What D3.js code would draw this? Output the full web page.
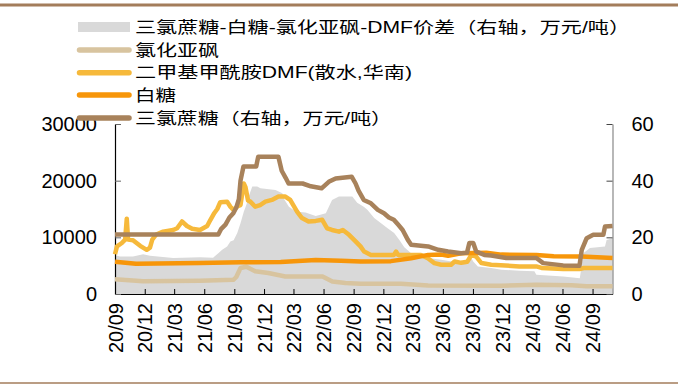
<!DOCTYPE html>
<html>
<head>
<meta charset="utf-8">
<script src="https://cdn.jsdelivr.net/npm/d3@7"></script>
<style>
  html, body { margin: 0; padding: 0; background: #fff; }
  svg { display: block; }
</style>
</head>
<body>
<div id="chart"></div>
<script>
// 三氯蔗糖价格（万元/吨，右轴）
const sucralose = [
  ["2020-09-01",21.0],["2021-07-14",21.0],["2021-07-23",23.0],["2021-08-05",24.5],["2021-08-17",27.0],
  ["2021-08-29",28.5],["2021-09-07",30.5],["2021-09-15",33.5],["2021-09-20",40.0],["2021-09-29",45.0],
  ["2021-11-07",45.0],["2021-11-13",48.4],["2022-01-14",48.4],["2022-01-24",43.5],["2022-02-05",41.0],
  ["2022-02-14",39.0],["2022-03-29",39.0],["2022-04-23",38.0],["2022-05-26",37.3],["2022-06-17",39.6],
  ["2022-07-08",40.8],["2022-08-26",41.4],["2022-09-07",39.0],["2022-09-16",36.5],["2022-10-02",33.2],
  ["2022-10-24",32.0],["2022-11-14",29.7],["2022-12-03",28.5],["2022-12-18",27.0],["2023-01-02",26.2],
  ["2023-01-15",24.5],["2023-01-29",22.6],["2023-02-14",19.1],["2023-02-24",17.4],["2023-04-17",16.8],
  ["2023-05-18",15.6],["2023-06-17",15.0],["2023-07-27",14.4],["2023-08-14",14.6],["2023-08-21",18.0],
  ["2023-09-02",18.0],["2023-09-11",15.0],["2023-10-06",13.8],["2023-10-27",13.6],["2023-12-12",12.7],
  ["2024-03-13",12.7],["2024-04-03",10.9],["2024-06-03",10.1],["2024-07-23",10.0],["2024-07-30",15.6],
  ["2024-08-14",19.7],["2024-09-03",20.9],["2024-10-04",20.9],["2024-10-09",23.8],["2024-11-01",24.0]
];

// 白糖价格（元/吨）
const sugar = [
  ["2020-09-01",5700],["2020-11-04",5350],["2021-05-19",5450],["2021-09-20",5600],["2022-01-21",5650],
  ["2022-05-08",6000],["2022-07-24",5850],["2022-09-23",5750],["2022-12-24",5800],["2023-02-24",6300],
  ["2023-04-17",6900],["2023-05-27",6950],["2023-06-17",6750],["2023-07-27",7200],["2023-10-12",7300],
  ["2023-11-27",6950],["2024-03-13",6900],["2024-05-05",6650],["2024-07-30",6600],["2024-11-01",6350]
];

// 二甲基甲酰胺DMF（散水，华南，元/吨）
const dmf = [
  ["2020-09-01",7000],["2020-09-07",8400],["2020-09-22",9000],["2020-10-02",9600],["2020-10-07",13300],
  ["2020-10-11",9600],["2020-10-26",9500],["2020-11-17",8500],["2020-12-07",7800],["2020-12-17",8200],
  ["2020-12-24",9600],["2021-01-05",10500],["2021-01-26",11000],["2021-02-26",11300],["2021-03-10",11600],
  ["2021-03-25",12800],["2021-04-09",12000],["2021-04-25",11500],["2021-05-19",11300],["2021-06-10",12000],
  ["2021-06-20",13100],["2021-07-02",14300],["2021-07-11",15000],["2021-07-20",16200],["2021-08-10",16300],
  ["2021-08-20",15400],["2021-08-30",14800],["2021-09-11",15500],["2021-09-20",15700],["2021-09-30",19500],
  ["2021-10-05",18900],["2021-10-13",16500],["2021-10-20",16300],["2021-11-04",15400],["2021-11-19",15700],
  ["2021-12-05",16300],["2021-12-25",16600],["2022-01-14",17200],["2022-02-04",17200],["2022-02-19",16600],
  ["2022-03-12",14550],["2022-03-27",13400],["2022-04-16",12800],["2022-05-08",12900],["2022-05-28",13100],
  ["2022-06-12",11600],["2022-06-27",11300],["2022-07-18",11000],["2022-07-30",11300],["2022-08-18",10450],
  ["2022-09-07",9300],["2022-09-22",8400],["2022-10-03",7500],["2022-10-24",6900],["2023-01-02",6900],
  ["2023-01-09",7500],["2023-01-15",6900],["2023-03-26",6900],["2023-04-16",6300],["2023-05-06",5460],
  ["2023-05-27",5160],["2023-06-26",5160],["2023-07-07",5740],["2023-07-27",5500],["2023-08-15",5700],
  ["2023-08-27",6900],["2023-09-11",6600],["2023-09-27",5460],["2023-10-27",5160],["2024-01-21",4870],
  ["2024-03-13",4870],["2024-03-29",4600],["2024-06-03",4400],["2024-07-23",4400],["2024-08-05",4580],
  ["2024-11-01",4580]
];

// 氯化亚砜价格（元/吨）
const thionyl = [
  ["2020-09-01",2600],["2020-11-26",2250],["2021-05-19",2350],["2021-08-29",2500],["2021-09-07",3000],
  ["2021-09-20",4600],["2021-10-08",4800],["2021-11-04",4000],["2021-12-14",3700],["2022-02-04",3100],
  ["2022-05-29",3100],["2022-06-28",2200],["2022-08-07",1950],["2022-09-22",1800],["2023-01-24",1800],
  ["2023-04-17",1520],["2023-11-27",1450],["2024-03-13",1640],["2024-06-29",1550],["2024-08-14",1350],
  ["2024-11-01",1350]
];

// 三氯蔗糖-白糖-氯化亚砜-DMF价差（万元/吨，右轴）
const spread = [
  ["2020-09-01",13.8],["2020-09-16",13.2],["2020-10-26",13.2],["2020-11-26",14.0],["2020-12-17",13.5],
  ["2021-02-26",12.7],["2021-05-19",13.0],["2021-06-28",12.8],["2021-07-14",14.4],["2021-07-26",15.6],
  ["2021-08-10",16.8],["2021-08-20",18.5],["2021-08-30",19.0],["2021-09-10",21.5],["2021-09-20",25.0],
  ["2021-09-30",29.0],["2021-10-08",31.5],["2021-10-15",34.4],["2021-10-26",37.9],["2021-11-10",37.9],
  ["2021-11-20",37.3],["2022-01-05",36.7],["2022-01-26",35.6],["2022-02-02",33.2],["2022-02-15",30.8],
  ["2022-03-08",29.1],["2022-04-07",28.8],["2022-05-08",27.5],["2022-06-08",28.5],["2022-06-27",33.2],
  ["2022-07-18",34.4],["2022-08-28",34.4],["2022-09-12",32.2],["2022-10-02",30.8],["2022-10-13",29.7],
  ["2022-11-03",26.8],["2022-11-24",25.0],["2022-12-14",23.2],["2023-01-03",21.5],["2023-01-19",19.1],
  ["2023-02-03",16.5],["2023-02-24",14.4],["2023-03-20",14.0],["2023-04-16",12.7],["2023-05-27",12.1],
  ["2023-07-27",10.9],["2023-08-15",10.5],["2023-08-22",13.8],["2023-09-02",11.5],["2023-09-16",9.7],
  ["2023-10-27",9.2],["2023-11-27",8.6],["2024-01-22",8.2],["2024-03-07",8.0],["2024-03-13",6.8],
  ["2024-06-03",6.2],["2024-07-24",5.6],["2024-08-04",14.4],["2024-08-24",16.2],["2024-10-09",16.8],
  ["2024-10-14",19.1],["2024-11-01",19.7]
];

const xTickLabels = ["20/09","20/12","21/03","21/06","21/09","21/12","22/03","22/06","22/09",
                     "22/12","23/03","23/06","23/09","23/12","24/03","24/06","24/09"];
const leftTicks = [0, 10000, 20000, 30000];
const rightTicks = [0, 20, 40, 60];

const legendItems = [
  { label: "三氯蔗糖-白糖-氯化亚砜-DMF价差（右轴，万元/吨）", kind: "area", color: "#d9d9d9", len: 495 },
  { label: "氯化亚砜", kind: "line", color: "#d8c49f", len: 84 },
  { label: "二甲基甲酰胺DMF(散水,华南)", kind: "line", color: "#f6b93b", len: 277 },
  { label: "白糖", kind: "line", color: "#f7960a", len: 41 },
  { label: "三氯蔗糖（右轴，万元/吨）", kind: "line", color: "#a8825b", len: 257 }
];

const W = 678, H = 387;
const FONT = "'Liberation Sans', Arial, 'Noto Sans CJK SC', sans-serif";
const plot = { left: 115, right: 612.5, top: 124, bottom: 294 };

const parse = d3.timeParse("%Y-%m-%d");
const parseTick = d3.timeParse("%y/%m");
const toPts = arr => arr.map(([d, v]) => ({ date: parse(d), value: v }));

const x = d3.scaleTime()
  .domain([parse("2020-09-01"), parse("2024-11-01")])
  .range([plot.left, plot.right]);
const yL = d3.scaleLinear().domain([0, 30000]).range([plot.bottom, plot.top]);
const yR = d3.scaleLinear().domain([0, 60]).range([plot.bottom, plot.top]);

const svg = d3.select("#chart").append("svg")
  .attr("width", W).attr("height", H)
  .style("font-family", FONT);

// frame rules
svg.append("line").attr("x1", 0).attr("x2", W).attr("y1", 5).attr("y2", 5)
  .attr("stroke", "#a37d5b").attr("stroke-width", 3);
svg.append("line").attr("x1", 0).attr("x2", W).attr("y1", 383).attr("y2", 383)
  .attr("stroke", "#a37d5b").attr("stroke-width", 1.5);

// spread area (right axis)
svg.append("path")
  .datum(toPts(spread))
  .attr("fill", "#d9d9d9")
  .attr("d", d3.area().x(d => x(d.date)).y0(yR(0)).y1(d => yR(d.value)));

// axes
const gx = svg.append("g")
  .attr("transform", `translate(0,${plot.bottom})`)
  .call(d3.axisBottom(x)
    .tickValues(xTickLabels.map(parseTick))
    .tickFormat(d3.timeFormat("%y/%m"))
    .tickSize(-5).tickSizeOuter(0));
gx.select(".domain").attr("stroke", "#000").attr("stroke-width", 1.2);
gx.selectAll(".tick line").attr("stroke", "#000");
gx.selectAll("text")
  .attr("transform", "rotate(-90)")
  .attr("x", -9).attr("y", 0).attr("dy", "0.35em")
  .attr("text-anchor", "end")
  .attr("font-size", 20).attr("font-family", FONT).attr("fill", "#000");

const gl = svg.append("g")
  .attr("transform", `translate(${plot.left},0)`)
  .call(d3.axisLeft(yL).tickValues(leftTicks).tickFormat(d3.format("d"))
    .tickSize(-6).tickPadding(18).tickSizeOuter(0));
gl.select(".domain").attr("stroke", "#000").attr("stroke-width", 1.2);
gl.selectAll(".tick line").attr("stroke", "#666");
gl.selectAll("text").attr("font-size", 20).attr("font-family", FONT).attr("fill", "#000");

const gr = svg.append("g")
  .attr("transform", `translate(${plot.right},0)`)
  .call(d3.axisRight(yR).tickValues(rightTicks).tickFormat(d3.format("d"))
    .tickSize(-6).tickPadding(19).tickSizeOuter(0));
gr.select(".domain").attr("stroke", "#888").attr("stroke-width", 1.2);
gr.selectAll(".tick line").attr("stroke", "#444");
gr.selectAll("text").attr("font-size", 20).attr("font-family", FONT).attr("fill", "#000");

// price lines
const lineL = d3.line().x(d => x(d.date)).y(d => yL(d.value));
const lineR = d3.line().x(d => x(d.date)).y(d => yR(d.value));
const series = [
  { data: thionyl, gen: lineL, color: "#d8c49f" },
  { data: dmf, gen: lineL, color: "#f6b93b" },
  { data: sugar, gen: lineL, color: "#f7960a" },
  { data: sucralose, gen: lineR, color: "#a8825b" }
];
series.forEach(s => {
  svg.append("path")
    .datum(toPts(s.data))
    .attr("fill", "none")
    .attr("stroke", s.color)
    .attr("stroke-width", 4.5)
    .attr("stroke-linejoin", "round")
    .attr("d", s.gen);
});

// legend
const legend = svg.append("g");
const rowY = [27, 50, 72.7, 95, 118];
legendItems.forEach((item, i) => {
  const y = rowY[i];
  if (item.kind === "area") {
    legend.append("rect").attr("x", 78).attr("y", y - 5).attr("width", 52).attr("height", 10)
      .attr("fill", item.color);
  } else {
    legend.append("line").attr("x1", 79.5).attr("x2", 129).attr("y1", y).attr("y2", y)
      .attr("stroke", item.color).attr("stroke-width", 5.5).attr("stroke-linecap", "round");
  }
  legend.append("text")
    .attr("x", 135).attr("y", y)
    .attr("dominant-baseline", "central")
    .attr("font-size", 16)
    .attr("textLength", item.len)
    .attr("lengthAdjust", "spacingAndGlyphs")
    .attr("fill", "#000")
    .text(item.label);
});
</script>
</body>
</html>
